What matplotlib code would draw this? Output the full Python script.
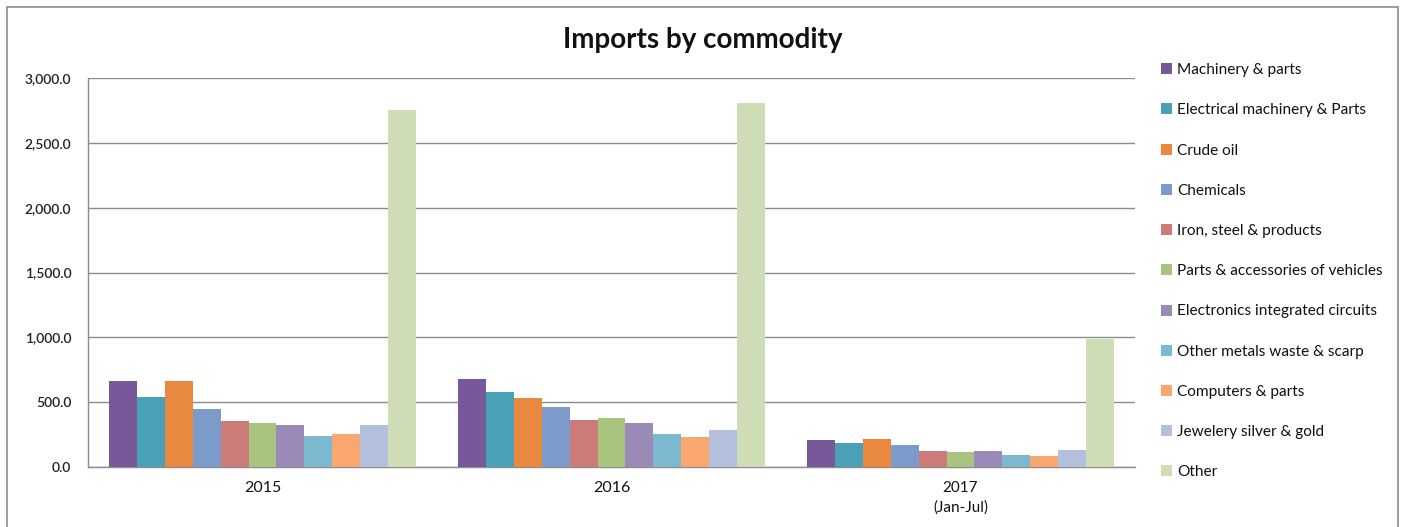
import matplotlib
matplotlib.use("Agg")
import matplotlib.pyplot as plt
from matplotlib.patches import Rectangle
from matplotlib.ticker import FuncFormatter
import numpy as np

plt.rcParams['font.family'] = ['Lato', 'DejaVu Sans']

years = ["2015", "2016", "2017\n(Jan-Jul)"]
commodities = [
    "Machinery & parts", "Electrical machinery & Parts", "Crude oil", "Chemicals",
    "Iron, steel & products", "Parts & accessories of vehicles",
    "Electronics integrated circuits", "Other metals waste & scarp",
    "Computers & parts", "Jewelery silver & gold", "Other",
]
machinery = [665, 676, 206]
electrical = [542, 578, 188]
crude_oil = [665, 534, 213]
chemicals = [444, 465, 170]
iron_steel = [357, 365, 126]
vehicle_parts = [339, 375, 116]
electronics = [321, 339, 126]
metals_waste = [241, 252, 90]
computers = [252, 231, 82]
jewelery = [321, 288, 134]
other = [2750, 2805, 984]
series = [machinery, electrical, crude_oil, chemicals, iron_steel, vehicle_parts,
          electronics, metals_waste, computers, jewelery, other]
colors = ["#77599A", "#4AA0B6", "#E8893F", "#7C9BCB", "#CD7B78", "#A9C47F",
          "#9A8AB7", "#7AB9CF", "#F9A76F", "#B2C0DD", "#CFDDB6"]

W, H = 1405, 527
fig = plt.figure(figsize=(W / 100, H / 100), dpi=100)
fig.patches.append(Rectangle((7 / W, -0.1), (1398 - 7) / W, 1 - 7 / H + 0.1,
                             transform=fig.transFigure, fill=False,
                             edgecolor="#8c8c8c", linewidth=1.2))
ax = fig.add_axes([88 / W, 1 - 467 / H, (1135 - 88) / W, (467 - 78) / H])

n = len(series)
bw = 0.877 / n
x = np.arange(len(years))
for i, (vals, c, lab) in enumerate(zip(series, colors, commodities)):
    ax.bar(x - 0.877 / 2 + bw * (i + 0.5), vals, width=bw, color=c, label=lab,
           linewidth=0, zorder=3)

ax.set_xlim(-0.5, len(years) - 0.5)
ax.set_ylim(0, 3000)
ax.set_yticks(np.arange(0, 3001, 500))
ax.yaxis.set_major_formatter(FuncFormatter(lambda v, p: f"{v:,.1f}"))
ax.grid(axis="y", color="#8c8c8c", linewidth=1, zorder=0)
ax.set_xticks(x)
ax.set_xticklabels(years)
for s in ["right", "top"]:
    ax.spines[s].set_visible(False)
for s in ["left", "bottom"]:
    ax.spines[s].set_color("#8c8c8c")
    ax.spines[s].set_linewidth(1)
ax.tick_params(axis="y", length=0, labelsize=10, pad=12, labelcolor="#222222")
ax.tick_params(axis="x", length=0, labelsize=11.5, pad=10, labelcolor="#111111")
for t in ax.get_yticklabels():
    t.set_fontweight("semibold")
labs = ax.get_xticklabels()
labs[2].set_fontsize(11)
labs[2].set_linespacing(1.45)

fig.text(703 / W, 1 - 40 / H, "Imports by commodity", ha="center", va="center",
         fontsize=20, fontweight="bold", color="#111111")

leg = ax.legend(loc="upper left", bbox_to_anchor=(1155 / W, 1 - 57 / H),
                bbox_transform=fig.transFigure, frameon=False, fontsize=11.1,
                handlelength=0.72, handleheight=0.72, handletextpad=0.3,
                labelspacing=1.70, borderaxespad=0, labelcolor="#111111")

fig.savefig("out.png", dpi=100)
